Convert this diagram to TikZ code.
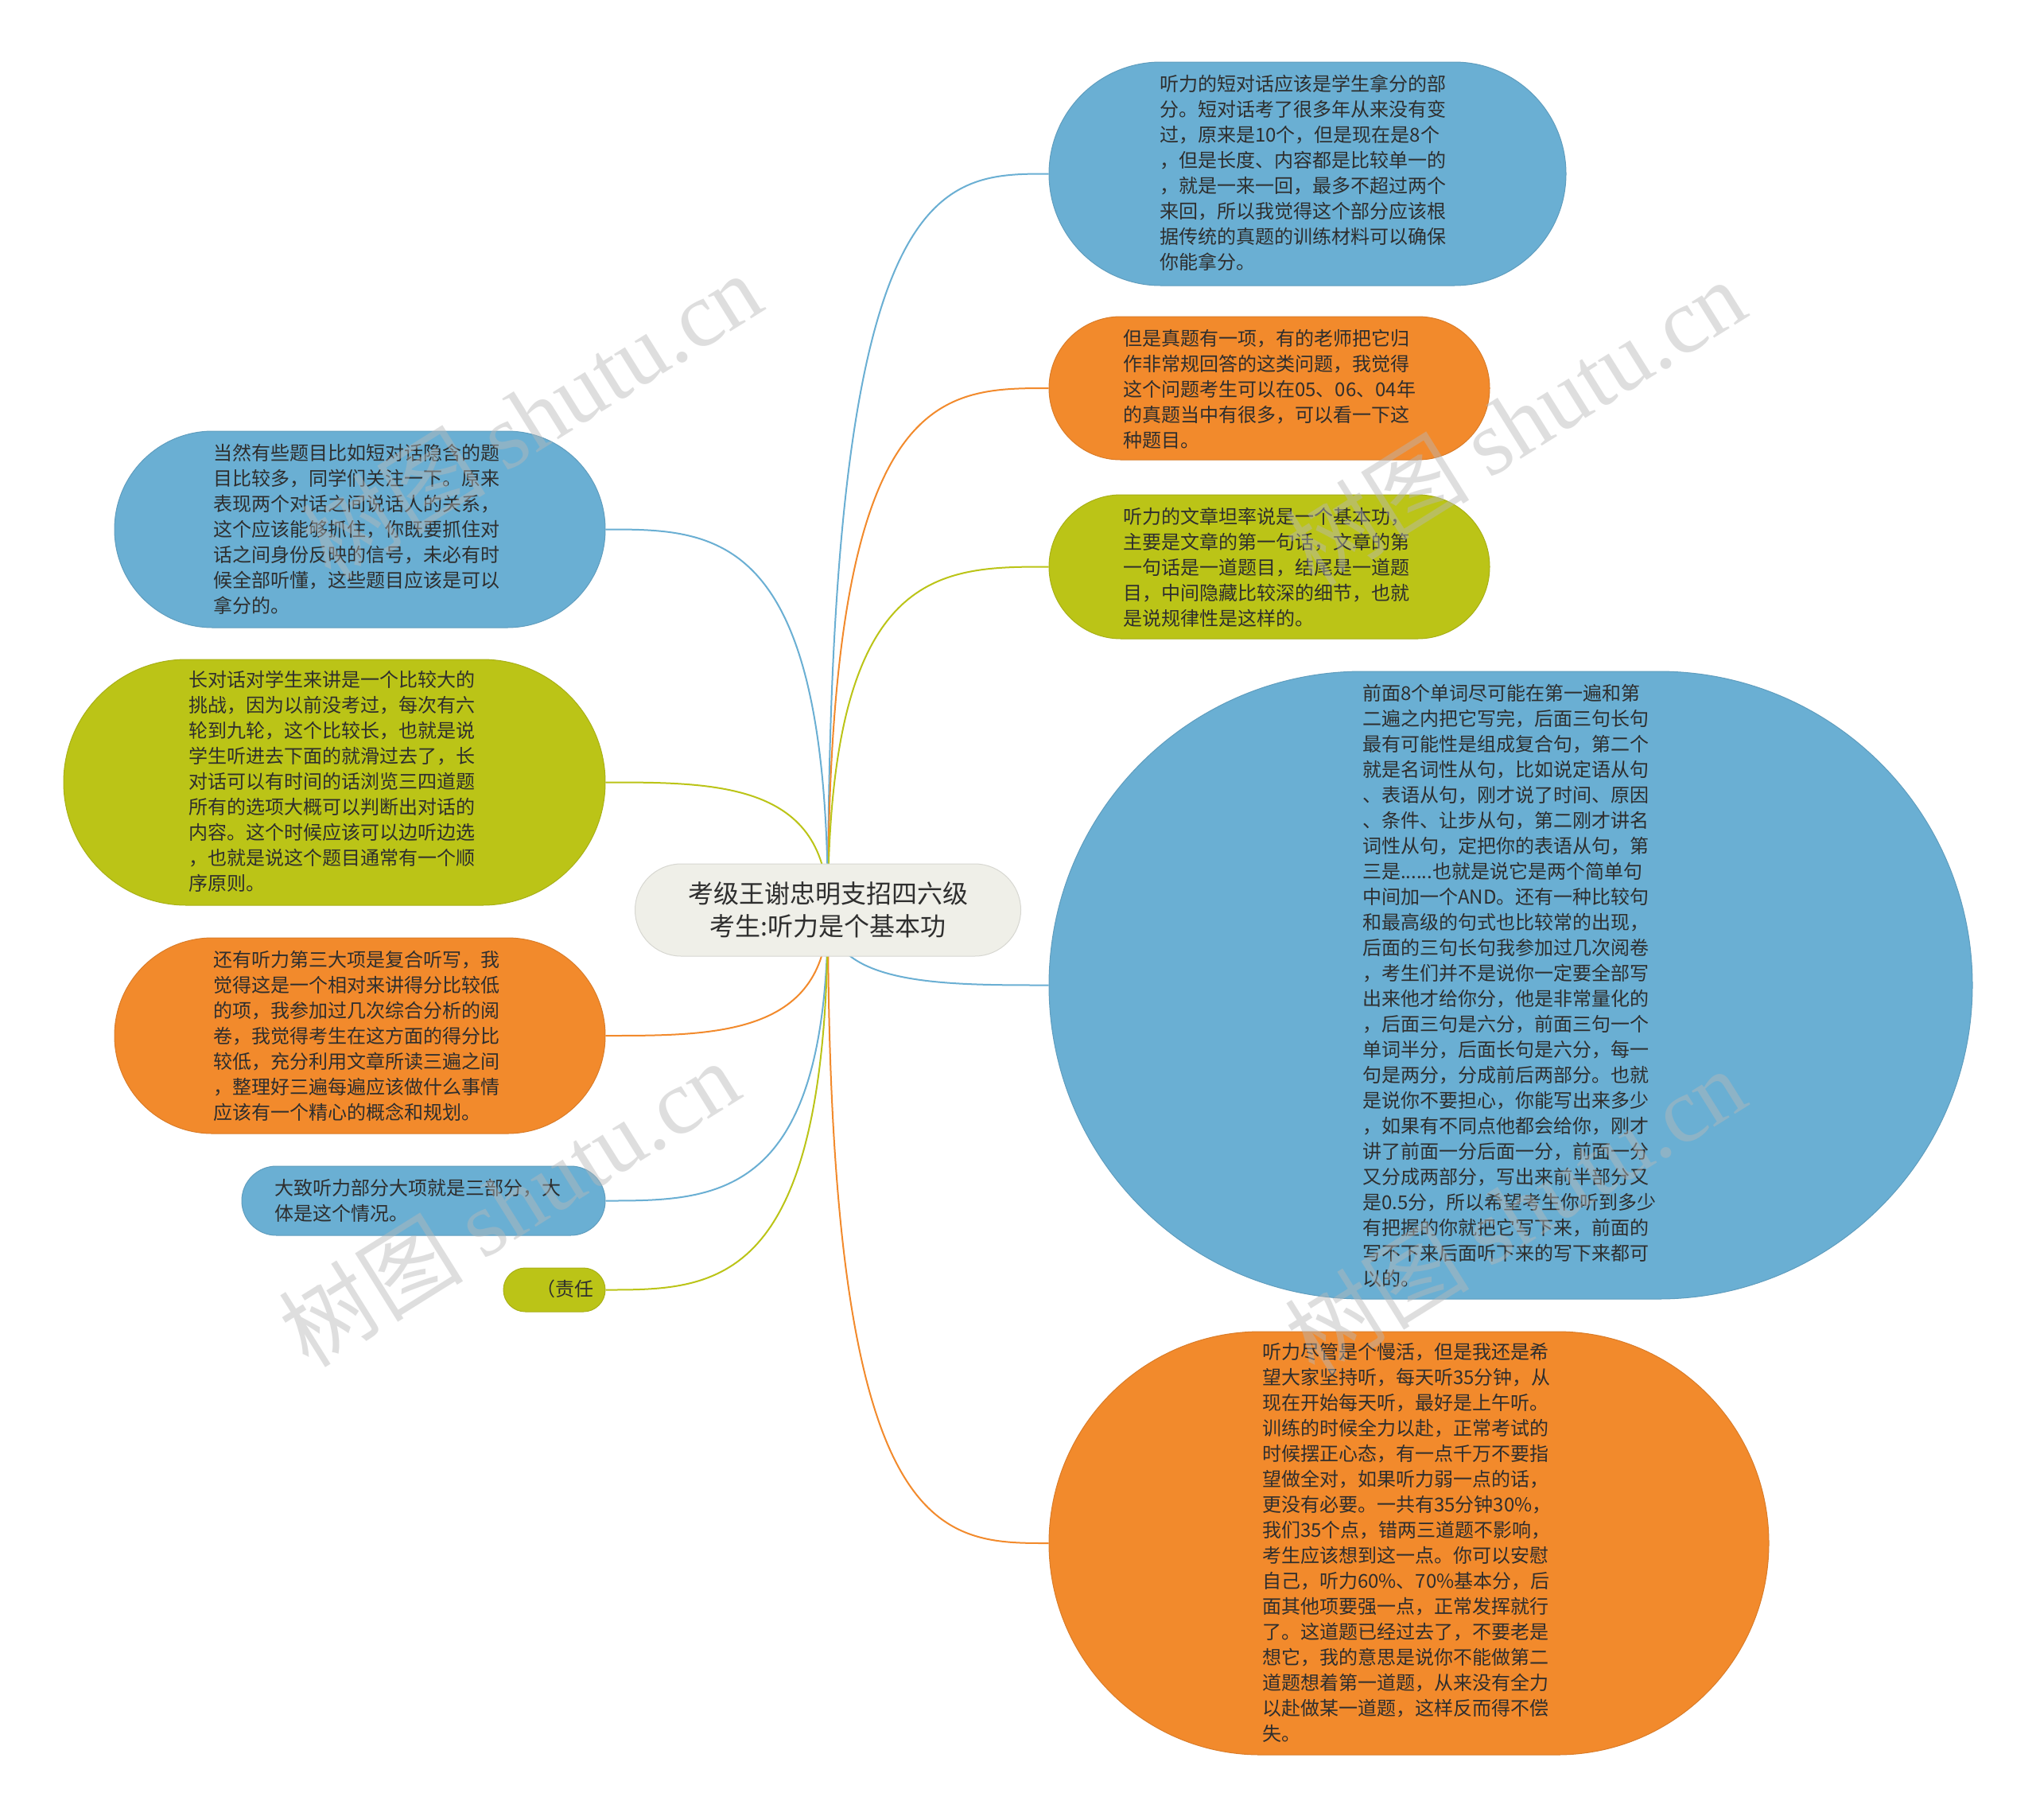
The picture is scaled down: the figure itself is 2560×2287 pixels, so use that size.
\documentclass[tikz,border=0pt]{standalone}
\usepackage{fontspec}
\setmainfont{Noto Sans CJK SC}
\newfontfamily\wmfont{Liberation Serif}
\usetikzlibrary{shapes.misc,calc,backgrounds}
\definecolor{cblue}{HTML}{6AAFD3}
\definecolor{corange}{HTML}{F28A2C}
\definecolor{cgreen}{HTML}{BBC417}
\definecolor{ccenter}{HTML}{EFEFE8}
\definecolor{ctext}{HTML}{2E2E2E}
\tikzset{
  mmbox/.style={rounded rectangle, inner sep=0pt, draw=#1!90!black, fill=#1, line width=1pt},
  txt/.style={anchor=north west, inner sep=0pt, align=left, font=\fontsize{24}{32}\selectfont, text=ctext},
  link/.style={line width=2pt, draw=#1},
  wmark/.style={rotate=32, text=black!28, opacity=0.45, inner sep=0pt, font=\fontsize{116}{120}\selectfont}
}
\newcommand\mmlink[3]{%
  \draw[link=#1] (c.center) .. controls (c.center |- #2.#3) and ($(c.center |- #2.#3)!0.5!(#2.#3)$) .. (#2.#3);}
\begin{document}
\begin{tikzpicture}[x=1pt,y=-1pt]
\useasboundingbox (0,0) rectangle (2560,2287);

% boxes
\node[mmbox=ccenter, minimum width=485, minimum height=116, align=center,
      font=\fontsize{32}{41}\selectfont, text=ctext] (c) at (1041,1144)
      {考级王谢忠明支招四六级\\考生:听力是个基本功};
\node[mmbox=cblue, minimum width=650, minimum height=281] (n1) at (1644,218.5) {};
\node[mmbox=corange, minimum width=554, minimum height=180] (n2) at (1596,488) {};
\node[mmbox=cgreen, minimum width=554, minimum height=181] (n3) at (1596,712.5) {};
\node[mmbox=cblue, minimum width=1161, minimum height=789] (n4) at (1899.5,1238.5) {};
\node[mmbox=corange, minimum width=905, minimum height=532] (n5) at (1771.5,1940) {};
\node[mmbox=cblue, minimum width=617, minimum height=247] (l1) at (452.5,665.5) {};
\node[mmbox=cgreen, minimum width=681, minimum height=309] (l2) at (420.5,983.5) {};
\node[mmbox=corange, minimum width=617, minimum height=246] (l3) at (452.5,1302) {};
\node[mmbox=cblue, minimum width=457, minimum height=87] (l4) at (532.5,1509.5) {};
\node[mmbox=cgreen, minimum width=128, minimum height=55] (l5) at (697,1621.5) {};

% texts
\node[txt] (t1) at (1458,94) {听力的短对话应该是学生拿分的部\\分。短对话考了很多年从来没有变\\过，原来是10个，但是现在是8个\\，但是长度、内容都是比较单一的\\，就是一来一回，最多不超过两个\\来回，所以我觉得这个部分应该根\\据传统的真题的训练材料可以确保\\你能拿分。};
\node[txt] (t2) at (1412,414) {但是真题有一项，有的老师把它归\\作非常规回答的这类问题，我觉得\\这个问题考生可以在05、06、04年\\的真题当中有很多，可以看一下这\\种题目。};
\node[txt] (t3) at (1412,638) {听力的文章坦率说是一个基本功，\\主要是文章的第一句话，文章的第\\一句话是一道题目，结尾是一道题\\目，中间隐藏比较深的细节，也就\\是说规律性是这样的。};
\node[txt] (t4) at (1713,860) {前面8个单词尽可能在第一遍和第\\二遍之内把它写完，后面三句长句\\最有可能性是组成复合句，第二个\\就是名词性从句，比如说定语从句\\、表语从句，刚才说了时间、原因\\、条件、让步从句，第二刚才讲名\\词性从句，定把你的表语从句，第\\三是......也就是说它是两个简单句\\中间加一个AND。还有一种比较句\\和最高级的句式也比较常的出现，\\后面的三句长句我参加过几次阅卷\\，考生们并不是说你一定要全部写\\出来他才给你分，他是非常量化的\\，后面三句是六分，前面三句一个\\单词半分，后面长句是六分，每一\\句是两分，分成前后两部分。也就\\是说你不要担心，你能写出来多少\\，如果有不同点他都会给你，刚才\\讲了前面一分后面一分，前面一分\\又分成两部分，写出来前半部分又\\是0.5分，所以希望考生你听到多少\\有把握的你就把它写下来，前面的\\写不下来后面听下来的写下来都可\\以的。};
\node[txt] (t5) at (1587,1688) {听力尽管是个慢活，但是我还是希\\望大家坚持听，每天听35分钟，从\\现在开始每天听，最好是上午听。\\训练的时候全力以赴，正常考试的\\时候摆正心态，有一点千万不要指\\望做全对，如果听力弱一点的话，\\更没有必要。一共有35分钟30\%，\\我们35个点，错两三道题不影响，\\考生应该想到这一点。你可以安慰\\自己，听力60\%、70\%基本分，后\\面其他项要强一点，正常发挥就行\\了。这道题已经过去了，不要老是\\想它，我的意思是说你不能做第二\\道题想着第一道题，从来没有全力\\以赴做某一道题，这样反而得不偿\\失。};
\node[txt] (u1) at (268,558) {当然有些题目比如短对话隐含的题\\目比较多，同学们关注一下。原来\\表现两个对话之间说话人的关系，\\这个应该能够抓住，你既要抓住对\\话之间身份反映的信号，未必有时\\候全部听懂，这些题目应该是可以\\拿分的。};
\node[txt] (u2) at (237,843) {长对话对学生来讲是一个比较大的\\挑战，因为以前没考过，每次有六\\轮到九轮，这个比较长，也就是说\\学生听进去下面的就滑过去了，长\\对话可以有时间的话浏览三四道题\\所有的选项大概可以判断出对话的\\内容。这个时候应该可以边听边选\\，也就是说这个题目通常有一个顺\\序原则。};
\node[txt] (u3) at (268,1195) {还有听力第三大项是复合听写，我\\觉得这是一个相对来讲得分比较低\\的项，我参加过几次综合分析的阅\\卷，我觉得考生在这方面的得分比\\较低，充分利用文章所读三遍之间\\，整理好三遍每遍应该做什么事情\\应该有一个精心的概念和规划。};
\node[txt] (u4) at (345,1482) {大致听力部分大项就是三部分，大\\体是这个情况。};
\node[txt] (u5) at (674,1609) {（责任};

% connectors and background
\begin{scope}[on background layer]
\fill[white] (0,0) rectangle (2560,2287);
\mmlink{cblue}{n1}{west}
\mmlink{corange}{n2}{west}
\mmlink{cgreen}{n3}{west}
\mmlink{cblue}{n4}{west}
\mmlink{corange}{n5}{west}
\mmlink{cblue}{l1}{east}
\mmlink{cgreen}{l2}{east}
\mmlink{corange}{l3}{east}
\mmlink{cblue}{l4}{east}
\mmlink{cgreen}{l5}{east}
\end{scope}

% watermarks
\node[wmark] (w1) at (668,522) {树图 {\wmfont shutu.cn}};
\node[wmark] (w2) at (1905,530) {树图 {\wmfont shutu.cn}};
\node[wmark] (w3) at (640,1512) {树图 {\wmfont shutu.cn}};
\node[wmark] (w4) at (1905,1522) {树图 {\wmfont shutu.cn}};
\end{tikzpicture}
\end{document}
